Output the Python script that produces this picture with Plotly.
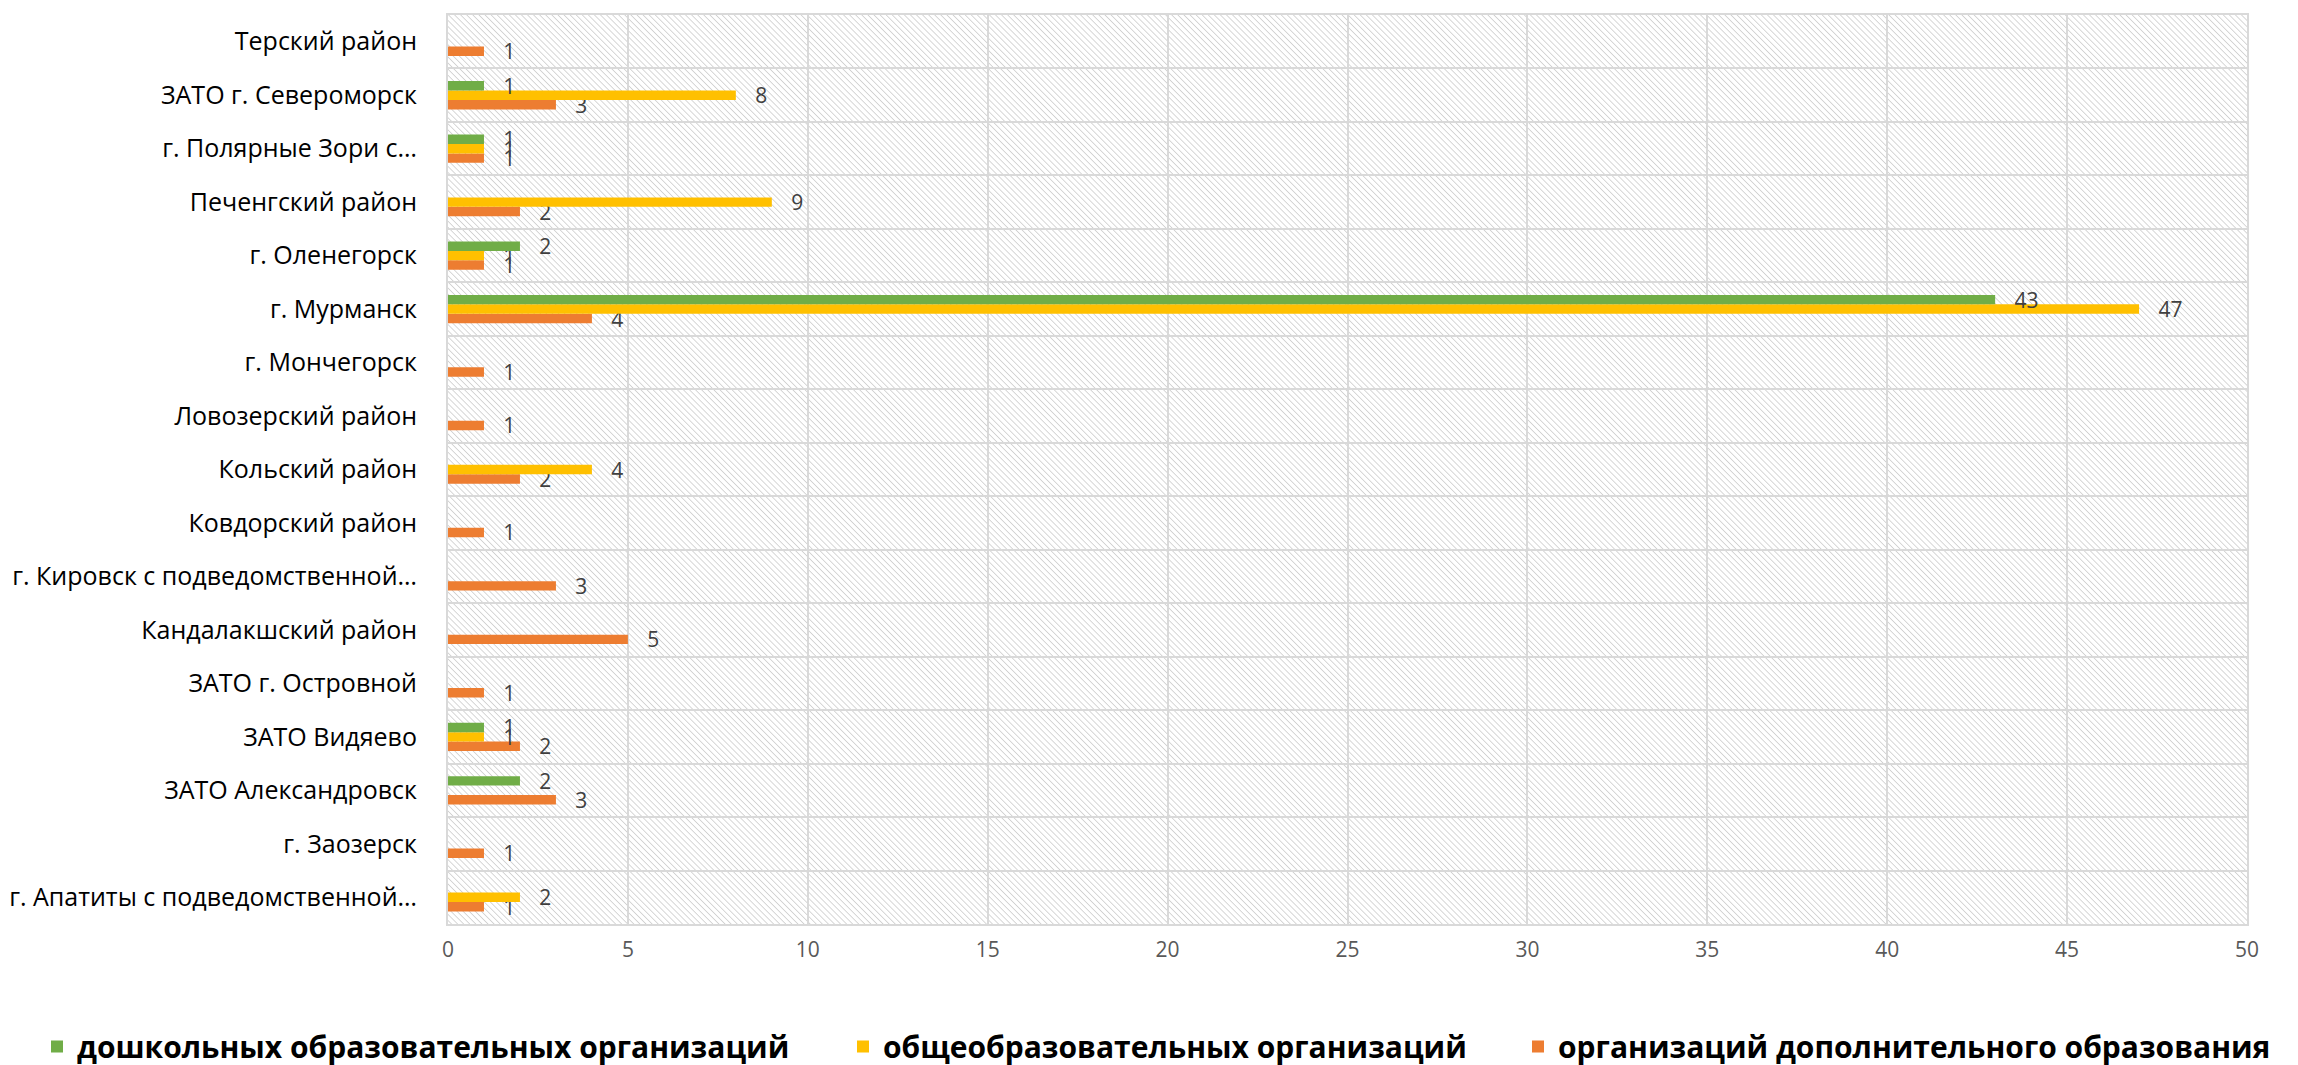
import base64
import plotly.graph_objects as go

# категории снизу вверх (plotly рисует первую категорию внизу)
categories = [
    "г. Апатиты с подведомственной…",
    "г. Заозерск",
    "ЗАТО Александровск",
    "ЗАТО Видяево",
    "ЗАТО г. Островной",
    "Кандалакшский район",
    "г. Кировск с подведомственной…",
    "Ковдорский район",
    "Кольский район",
    "Ловозерский район",
    "г. Мончегорск",
    "г. Мурманск",
    "г. Оленегорск",
    "Печенгский район",
    "г. Полярные Зори с…",
    "ЗАТО г. Североморск",
    "Терский район",
]

preschool = [None, None, 2, 1, None, None, None, None, None, None, None, 43, 2, None, 1, 1, None]
general = [2, None, None, 1, None, None, None, None, 4, None, None, 47, 1, 9, 1, 8, None]
additional = [1, 1, 3, 2, 1, 5, 3, 1, 2, 1, 1, 4, 1, 2, 1, 3, 1]

series_names = [
    "дошкольных образовательных организаций",
    "общеобразовательных организаций",
    "организаций дополнительного образования",
]
x_ticks = list(range(0, 55, 5))

FONT = "Open Sans, Noto Sans, DejaVu Sans, sans-serif"

# штриховка фона области построения (как в Excel)
svg = (
    '<svg xmlns="http://www.w3.org/2000/svg" width="1800" height="909">'
    '<defs><pattern id="p" width="4.3" height="4.3" patternUnits="userSpaceOnUse" '
    'patternTransform="rotate(-45)">'
    '<line x1="0" y1="0" x2="0" y2="4.3" stroke="#bdbdbd" stroke-width="1.2"/>'
    '</pattern></defs>'
    '<rect width="1800" height="909" fill="white"/>'
    '<rect width="1800" height="909" fill="url(#p)"/></svg>'
)
bg_src = "data:image/svg+xml;base64," + base64.b64encode(svg.encode()).decode()

fig = go.Figure()

# порядок: оранжевый внизу группы, зелёный сверху; у каждой серии своя легенда
for name, vals, color, leg in [
    (series_names[2], additional, "#ED7D31", "legend3"),
    (series_names[1], general, "#FFC000", "legend2"),
    (series_names[0], preschool, "#70AD47", "legend"),
]:
    fig.add_trace(go.Bar(
        y=categories, x=vals, name=name, orientation="h", legend=leg,
        marker=dict(color=color, line=dict(width=0)),
        texttemplate="\u00a0\u00a0\u00a0%{x}", textposition="outside",
        textfont=dict(size=21, color="#404040", family=FONT),
        constraintext="none", cliponaxis=False,
    ))

legend_font = dict(size=30, color="black", family="Open Sans, sans-serif", weight="bold")
legend_common = dict(
    orientation="h", xref="container", yref="container",
    xanchor="left", y=0.025, yanchor="middle", font=legend_font,
)

fig.update_layout(
    width=2298, height=1065,
    margin=dict(l=440, r=59, t=7, b=149, autoexpand=False),
    paper_bgcolor="white",
    plot_bgcolor="rgba(0,0,0,0)",
    barmode="group", bargap=0.47, bargroupgap=0,
    font=dict(family=FONT),
    showlegend=True,
    legend=dict(x=29 / 2298, **legend_common),
    legend2=dict(x=835 / 2298, **legend_common),
    legend3=dict(x=1510 / 2298, **legend_common),
    images=[dict(
        source=bg_src, xref="paper", yref="paper", x=0, y=1,
        sizex=1, sizey=1, xanchor="left", yanchor="top",
        sizing="stretch", layer="below",
    )],
)

fig.update_xaxes(
    range=[0, 50], tickvals=x_ticks,
    showgrid=True, gridcolor="#d9d9d9", gridwidth=2,
    zeroline=False, showline=True, linecolor="#d9d9d9", linewidth=2, mirror=True,
    tickfont=dict(size=21, color="#595959"), ticks="", ticklabelstandoff=6,
)
fig.update_yaxes(
    type="category", categoryorder="array", categoryarray=categories,
    tickson="boundaries", showgrid=True, gridcolor="#d9d9d9", gridwidth=2,
    showline=True, linecolor="#d9d9d9", linewidth=2, mirror=True,
    ticks="", tickfont=dict(size=25, color="black"), ticklabelstandoff=24,
)

fig.write_html("out.html")
